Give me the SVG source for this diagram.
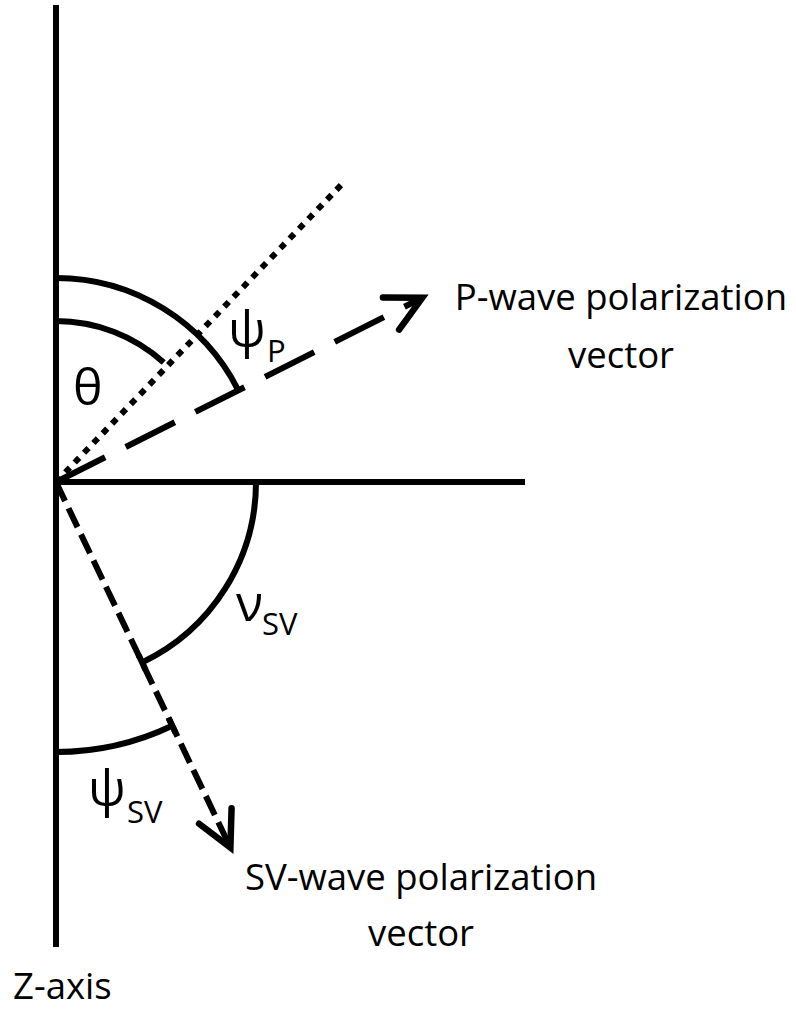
<svg xmlns="http://www.w3.org/2000/svg" width="796" height="1010" viewBox="0 0 796 1010">
<style>
.ln{fill:none;stroke:#000;stroke-width:6}
.arc{fill:none;stroke:#000;stroke-width:6}
.lbl{font-family:"Open Sans","Liberation Sans",sans-serif;font-size:36.5px;fill:#000}
.gk{font-family:"Open Sans","DejaVu Sans",sans-serif;font-size:50px;fill:#000}
.sub{font-family:"Open Sans","Liberation Sans",sans-serif;font-size:31px;fill:#000}
</style>
<defs>
<marker id="chev" markerUnits="userSpaceOnUse" viewBox="-50 -30 60 60" markerWidth="60" markerHeight="60" refX="0" refY="0" orient="auto" overflow="visible">
<path d="M-35,-18 L0,0 L-35,18" fill="none" stroke="#000" stroke-width="6.5" stroke-linecap="round" stroke-linejoin="miter"/>
</marker>
</defs>
<g id="axes">
<line class="ln" x1="56" y1="5" x2="56" y2="947"/>
<line class="ln" x1="53" y1="482" x2="525" y2="482"/>
</g>
<g id="connectors">
<line id="dotted" class="ln" x1="56" y1="482" x2="343" y2="183" stroke-width="6.5" stroke-dasharray="6.5 7"/>
<line id="p-vector" class="ln" x1="56" y1="482" x2="422.3" y2="297.8" stroke-dasharray="55 23" marker-end="url(#chev)"/>
<line id="sv-vector" class="ln" x1="56" y1="482" x2="230.4" y2="847.6" stroke-dasharray="21 8" marker-end="url(#chev)"/>
</g>
<g id="arcs">
<path id="theta-arc" class="arc" d="M56,321 A161,161 0 0 1 163.7,362.4"/>
<path id="psip-arc" class="arc" d="M56,278 A204,204 0 0 1 238.3,390.3"/>
<path id="nusv-arc" class="arc" d="M256,482 A200,200 0 0 1 142.1,662.5"/>
<line class="arc" x1="138.7" y1="655.3" x2="145.5" y2="669.7"/>
<path id="psisv-arc" class="arc" d="M56,752 A270,270 0 0 0 172.2,725.7"/>
<line class="arc" x1="168.8" y1="718.5" x2="175.6" y2="732.9"/>
</g>
<g id="label-theta"><text class="gk" x="73" y="405">θ</text></g>
<g id="label-psip"><text class="gk" x="228" y="347">ψ</text><text class="sub" x="267" y="362">P</text></g>
<g id="label-nusv"><text class="gk" x="236" y="621">ν</text><text class="sub" x="262" y="635">SV</text></g>
<g id="label-psisv"><text class="gk" x="88" y="806">ψ</text><text class="sub" x="127" y="823">SV</text></g>
<g id="label-p"><text class="lbl" text-anchor="middle" x="621" y="310">P-wave polarization</text><text class="lbl" text-anchor="middle" x="621" y="368">vector</text></g>
<g id="label-sv"><text class="lbl" text-anchor="middle" x="421" y="890">SV-wave polarization</text><text class="lbl" text-anchor="middle" x="421" y="946">vector</text></g>
<g id="label-z"><text class="lbl" x="13" y="999">Z-axis</text></g>
</svg>
